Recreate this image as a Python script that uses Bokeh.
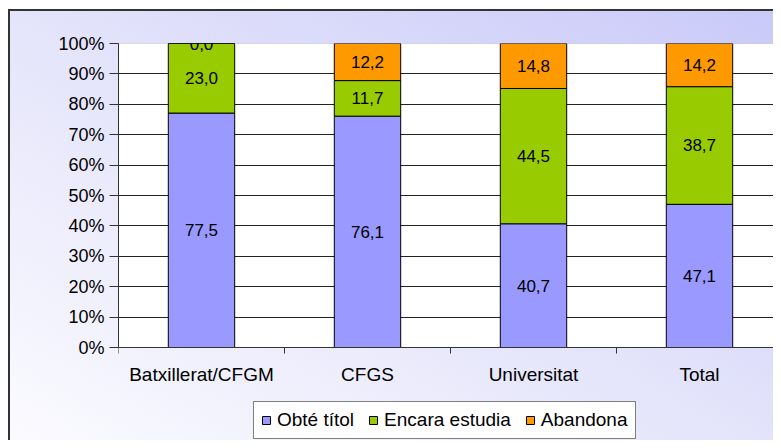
from bokeh.plotting import figure
from bokeh.models import (ColumnDataSource, FixedTicker, LabelSet, Legend,
                          LegendItem, Range1d, BoxAnnotation)
from bokeh.core.properties import value
from bokeh.embed import file_html
from bokeh.resources import INLINE

categories = ["Batxillerat/CFGM", "CFGS", "Universitat", "Total"]
obte_titol = [77.5, 76.1, 40.7, 47.1]
encara_estudia = [23.0, 11.7, 44.5, 38.7]
abandona = [0.0, 12.2, 14.8, 14.2]
series_names = ["Obté títol", "Encara estudia", "Abandona"]
series_colors = ["#9999FF", "#99CC00", "#FF9900"]
y_tick_values = [0, 10, 20, 30, 40, 50, 60, 70, 80, 90, 100]
y_tick_labels = ["0%", "10%", "20%", "30%", "40%", "50%", "60%", "70%",
                 "80%", "90%", "100%"]

FONT = "Liberation Sans"
W, H = 773, 440
LEFT, TOP, BOTTOM = 118, 43, 347     # plot-area pixel edges
CAT_PX = 166                         # pixels per category slot

series = [obte_titol, encara_estudia, abandona]
n = len(categories)
xs = [i + 0.5 for i in range(n)]
totals = [sum(s[i] for s in series) for i in range(n)]

x_end = (W - LEFT) / CAT_PX
y_start = -(H - BOTTOM) / (BOTTOM - TOP) * 100   # room below 0% for labels/legend

p = figure(width=W, height=H,
           x_range=Range1d(0, x_end), y_range=Range1d(y_start, 100),
           output_backend="svg", toolbar_location=None,
           min_border_left=LEFT, min_border_right=0, min_border_top=TOP,
           min_border_bottom=0)
p.background_fill_alpha = 0
p.border_fill_alpha = 0
p.outline_line_color = None
p.styles = {"background": (
    "linear-gradient(#333,#333) 8px 9px/2px 100% no-repeat,"
    "linear-gradient(#333,#333) 8px 9px/100% 2px no-repeat,"
    "linear-gradient(#fff,#fff) 0 0/100% 9px no-repeat,"
    "linear-gradient(#fff,#fff) 0 0/8px 100% no-repeat,"
    "linear-gradient(30deg, #fbfbff 0%, #e6e6fb 45%, #c9c9f9 100%)")}

# white plot area
p.add_layout(BoxAnnotation(left=0, right=x_end, bottom=0, top=100,
                           fill_color="white", fill_alpha=1,
                           line_color="#808080", line_width=1, level="image"))

renderers = []
lab_x, lab_y, lab_t = [], [], []
bottoms = [0.0] * n
for vals, name, col in zip(series, series_names, series_colors):
    pct = [v / t * 100 for v, t in zip(vals, totals)]
    tops = [b + q for b, q in zip(bottoms, pct)]
    src = ColumnDataSource(dict(x=xs, bottom=bottoms, top=tops))
    r = p.vbar(x="x", bottom="bottom", top="top", width=0.4, source=src,
               fill_color=col, line_color="black", line_width=1)
    renderers.append((name, r))
    for i in range(n):
        lab_x.append(xs[i])
        lab_y.append((bottoms[i] + tops[i]) / 2)
        lab_t.append(f"{vals[i]:.1f}".replace(".", ","))
    bottoms = tops

lsrc = ColumnDataSource(dict(x=lab_x, y=lab_y, t=lab_t))
p.add_layout(LabelSet(x="x", y="y", text="t", source=lsrc, text_align="center",
                      text_baseline="middle", text_font=value(FONT),
                      text_font_size=value("17px"), text_color="black"))

# axes
p.yaxis.ticker = FixedTicker(ticks=y_tick_values)
p.yaxis.bounds = (0, 100)
p.yaxis.major_label_overrides = {v: l for v, l in zip(y_tick_values, y_tick_labels)}
p.yaxis.major_tick_out = 9
p.yaxis.major_tick_in = 0
p.yaxis.minor_tick_line_color = None
p.yaxis.axis_line_color = "#333333"
p.yaxis.major_tick_line_color = "#333333"
p.yaxis.major_label_text_font = FONT
p.yaxis.major_label_text_font_size = "18px"
p.yaxis.major_label_text_color = "black"
p.yaxis.major_label_standoff = 5

p.xaxis.fixed_location = 0
p.xaxis.ticker = FixedTicker(ticks=xs, minor_ticks=list(range(n + 1)))
p.xaxis.major_label_overrides = {x: c for x, c in zip(xs, categories)}
p.xaxis.major_tick_out = 0
p.xaxis.major_tick_in = 0
p.xaxis.minor_tick_out = 6
p.xaxis.minor_tick_in = 0
p.xaxis.minor_tick_line_color = "#333333"
p.xaxis.axis_line_color = "#333333"
p.xaxis.major_label_text_font = FONT
p.xaxis.major_label_text_font_size = "19px"
p.xaxis.major_label_text_color = "black"
p.xaxis.major_label_standoff = 10

p.xgrid.visible = False
p.ygrid.ticker = FixedTicker(ticks=y_tick_values[1:-1])
p.ygrid.grid_line_color = "#222222"

legend = Legend(items=[LegendItem(label=nm, renderers=[r]) for nm, r in renderers],
                orientation="horizontal", location=(135, 1),
                label_text_font=FONT, label_text_font_size="19px",
                label_text_color="black",
                glyph_width=10, glyph_height=10, label_standoff=6,
                spacing=14, padding=7, margin=0,
                border_line_color="black", border_line_width=1,
                background_fill_color="white", background_fill_alpha=1)
p.add_layout(legend, "center")

open("out.html", "w").write(file_html(p, INLINE))
